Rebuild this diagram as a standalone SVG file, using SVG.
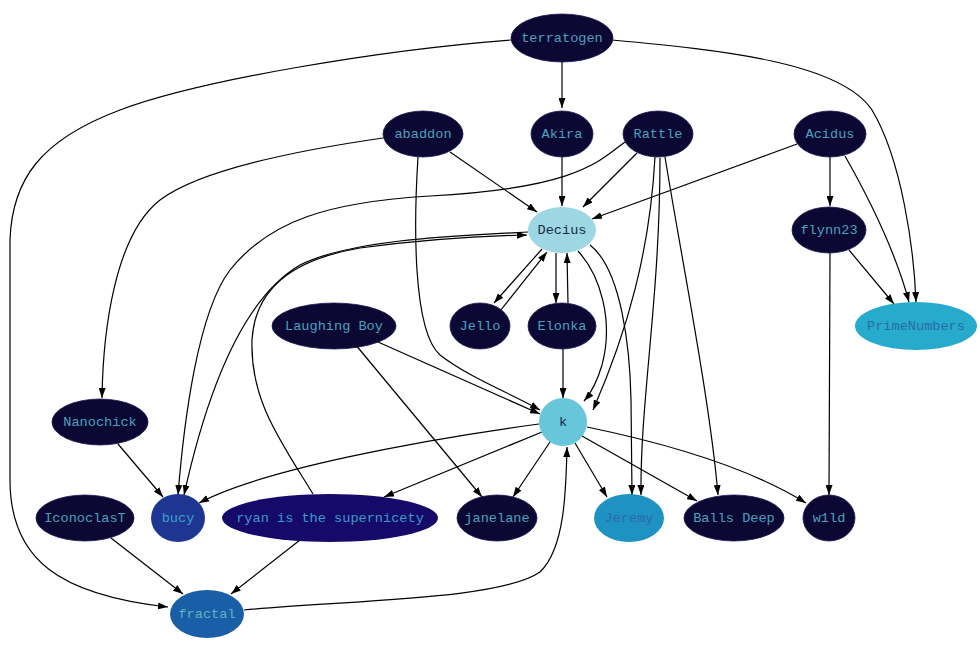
<svg xmlns="http://www.w3.org/2000/svg" width="980" height="648" viewBox="0 0 980 648">
<defs>
<marker id="ah" viewBox="0 0 10 7" refX="10" refY="3.5" markerWidth="10" markerHeight="7" markerUnits="userSpaceOnUse" orient="auto">
<path d="M0,0 L10,3.5 L0,7 z" fill="#000"/>
</marker>
<style>
.e{fill:none;stroke:#000;stroke-width:1.2;marker-end:url(#ah)}
.n text{font-family:"Liberation Mono","DejaVu Sans Mono",monospace;font-size:13.6px;text-anchor:middle;dominant-baseline:central}
.d ellipse{fill:#0c0834;stroke:#1a1650;stroke-width:0.8}
.d text{fill:#4aa2bc}
</style>
</defs>
<rect width="980" height="648" fill="#fff"/>
<g id="edges">
<path class="e" d="M562,62 L562,108"/>
<path class="e" d="M511,40 C380,50 200,80 120,110 C40,140 12,180 10,240 L10,480 C10,560 60,595 168,607"/>
<path class="e" d="M612,40 C720,50 840,62 872,110 C902,160 914,250 916,302"/>
<path class="e" d="M450,152 L537,212"/>
<path class="e" d="M383,138 C300,150 200,170 160,200 C115,235 103,330 102,398"/>
<path class="e" d="M418,157 C414,220 412,330 440,355 C470,378 510,393 540,410"/>
<path class="e" d="M562,157 L562,206"/>
<path class="e" d="M637,153 L583,207"/>
<path class="e" d="M625,142 C600,160 580,188 430,196 C330,202 270,220 230,270 C198,312 184,420 178,495"/>
<path class="e" d="M655,157 C650,250 628,330 593,410"/>
<path class="e" d="M660,158 C660,300 640,400 641,495"/>
<path class="e" d="M665,157 C680,250 710,400 718,495"/>
<path class="e" d="M797,144 L592,219"/>
<path class="e" d="M830,157 L830,206"/>
<path class="e" d="M845,156 C870,200 895,250 909,302"/>
<path class="e" d="M849,250 L894,304"/>
<path class="e" d="M830,253 L829,495"/>
<path class="e" d="M542,249 L494,303"/>
<path class="e" d="M500,311 L547,252"/>
<path class="e" d="M556,253 L556,303"/>
<path class="e" d="M568,303 L567,253"/>
<path class="e" d="M578,251 C600,275 614,320 602,365 C597,382 592,392 584,401"/>
<path class="e" d="M590,245 C622,270 630,350 631,400 L632,495"/>
<path class="e" d="M528,232 C450,236 350,240 300,265 C240,300 205,400 184,495"/>
<path class="e" d="M313,494 C280,440 250,400 252,340 C255,290 290,260 360,248 C420,240 480,236 527,235"/>
<path class="e" d="M378,342 L540,414"/>
<path class="e" d="M355,344 L482,497"/>
<path class="e" d="M563,349 L563,398"/>
<path class="e" d="M539,424 C420,440 260,470 199,503"/>
<path class="e" d="M542,432 L384,497"/>
<path class="e" d="M550,442 L513,497"/>
<path class="e" d="M575,443 L607,497"/>
<path class="e" d="M582,436 L697,501"/>
<path class="e" d="M587,427 C650,440 740,462 806,503"/>
<path class="e" d="M118,444 L163,497"/>
<path class="e" d="M111,538 L183,594"/>
<path class="e" d="M300,540 L231,594"/>
<path class="e" d="M244,610 C350,600 500,600 540,572 C565,548 566,490 567,447"/>
</g>
<g id="terratogen" class="n d"><ellipse cx="562" cy="38" rx="51" ry="24"/><text x="562" y="38">terratogen</text></g>
<g id="abaddon" class="n d"><ellipse cx="423" cy="134" rx="40" ry="23"/><text x="423" y="134">abaddon</text></g>
<g id="Akira" class="n d"><ellipse cx="562" cy="134" rx="31" ry="23"/><text x="562" y="134">Akira</text></g>
<g id="Rattle" class="n d"><ellipse cx="658" cy="134" rx="35" ry="23"/><text x="658" y="134">Rattle</text></g>
<g id="Acidus" class="n d"><ellipse cx="830" cy="134" rx="36" ry="23"/><text x="830" y="134">Acidus</text></g>
<g id="Decius" class="n"><ellipse cx="562" cy="230" rx="34" ry="23" fill="#9dd7e4"/><text x="562" y="230" fill="#1a2a4a">Decius</text></g>
<g id="flynn23" class="n d"><ellipse cx="829" cy="230" rx="37" ry="23"/><text x="829" y="230">flynn23</text></g>
<g id="LaughingBoy" class="n d"><ellipse cx="334" cy="326" rx="62" ry="23"/><text x="334" y="326">Laughing Boy</text></g>
<g id="Jello" class="n d"><ellipse cx="480" cy="326" rx="30" ry="23"/><text x="480" y="326">Jello</text></g>
<g id="Elonka" class="n d"><ellipse cx="562" cy="326" rx="34" ry="23"/><text x="562" y="326">Elonka</text></g>
<g id="PrimeNumbers" class="n"><ellipse cx="916" cy="326" rx="61" ry="24" fill="#27abcd"/><text x="916" y="326" fill="#2a6aa8">PrimeNumbers</text></g>
<g id="Nanochick" class="n d"><ellipse cx="100" cy="422" rx="48" ry="23"/><text x="100" y="422">Nanochick</text></g>
<g id="k" class="n"><ellipse cx="563" cy="422" rx="24" ry="24" fill="#67c6da"/><text x="563" y="422" fill="#1a2a4a">k</text></g>
<g id="IconoclasT" class="n d"><ellipse cx="85" cy="518" rx="49" ry="23"/><text x="85" y="518">IconoclasT</text></g>
<g id="bucy" class="n"><ellipse cx="178" cy="518" rx="27" ry="24" fill="#1e3592"/><text x="178" y="518" fill="#3aa2cc">bucy</text></g>
<g id="ryan" class="n"><ellipse cx="330" cy="518" rx="108" ry="24" fill="#150a69"/><text x="330" y="518" fill="#3a9cc8">ryan is the supernicety</text></g>
<g id="janelane" class="n d"><ellipse cx="497" cy="518" rx="40" ry="23"/><text x="497" y="518">janelane</text></g>
<g id="Jeremy" class="n"><ellipse cx="629" cy="518" rx="35" ry="24" fill="#1e92c2"/><text x="629" y="518" fill="#2a6aa8">Jeremy</text></g>
<g id="BallsDeep" class="n d"><ellipse cx="734" cy="518" rx="50" ry="23"/><text x="734" y="518">Balls Deep</text></g>
<g id="w1ld" class="n d"><ellipse cx="829" cy="518" rx="26" ry="23"/><text x="829" y="518">w1ld</text></g>
<g id="fractal" class="n"><ellipse cx="207" cy="614" rx="37" ry="24" fill="#1b5ea8"/><text x="207" y="614" fill="#5eb4c4">fractal</text></g>
</svg>
